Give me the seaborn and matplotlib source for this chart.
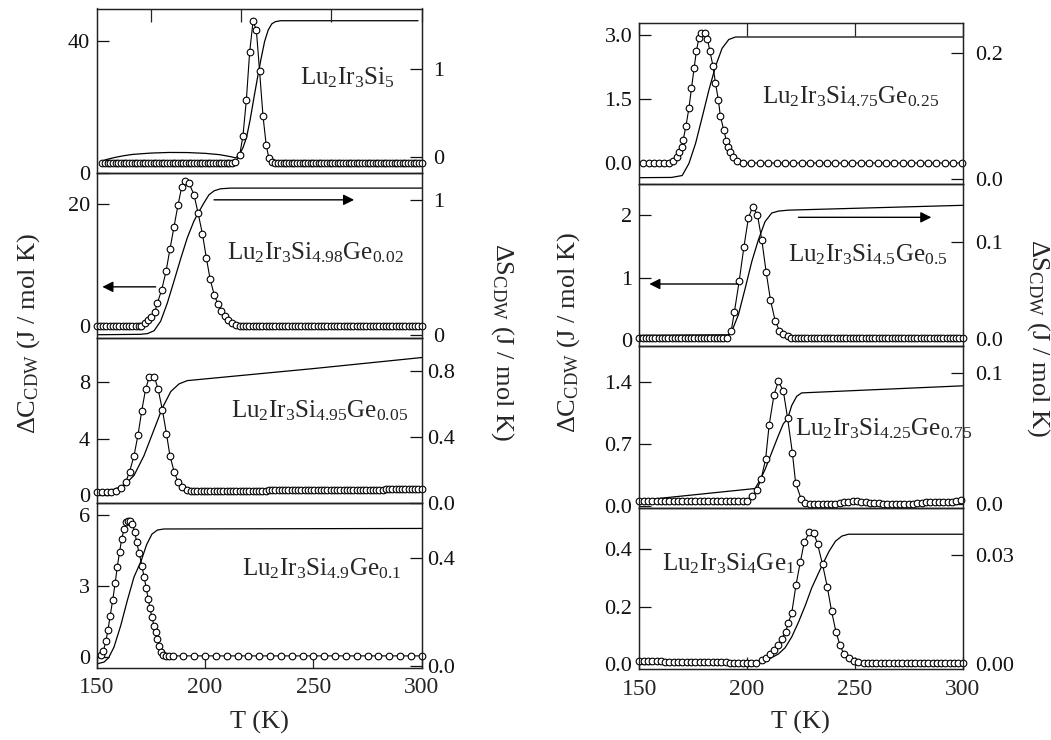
import matplotlib
matplotlib.use("Agg")
import matplotlib.pyplot as plt
import seaborn as sns

# ---------------- data ----------------
# Lu2Ir3Si5 (own T range 120-300)
T_si5 = [123.0, 124.5, 126.0, 127.5, 129.0, 130.5, 132.0, 133.5, 135.0, 136.5,
         138.0, 139.5, 141.0, 142.5, 144.0, 145.5, 147.0, 148.5, 150.0, 151.5,
         153.0, 154.5, 156.0, 157.5, 159.0, 160.5, 162.0, 163.5, 165.0, 166.5,
         168.0, 169.5, 171.0, 172.5, 174.0, 175.5, 177.0, 178.5, 180.0, 181.5,
         183.0, 184.5, 186.0, 187.5, 189.0, 190.5, 192.0, 193.5, 195.0,
         196.8, 199.2, 201.0, 202.9, 204.7, 206.6, 208.4, 210.2, 212.1, 213.9, 215.4, 217.1,
         219.0, 220.5, 222.0, 223.5, 225.0, 226.5, 228.0, 229.5, 231.0, 232.5,
         234.0, 235.5, 237.0, 238.5, 240.0, 241.5, 243.0, 244.5, 246.0, 247.5,
         249.0, 250.5, 252.0, 253.5, 255.0, 256.5, 258.0, 259.5, 261.0, 262.5,
         264.0, 265.5, 267.0, 268.5, 270.0, 271.5, 273.0, 274.5, 276.0, 277.5,
         279.0, 280.5, 282.0, 283.5, 285.0, 286.5, 288.0, 289.5, 291.0, 292.5,
         294.0, 295.5, 297.0, 298.5, 300.0]
C_si5 = [3.2, 3.2, 3.2, 3.2, 3.2, 3.2, 3.2, 3.2, 3.2, 3.2,
         3.2, 3.2, 3.2, 3.2, 3.2, 3.2, 3.2, 3.2, 3.2, 3.2,
         3.2, 3.2, 3.2, 3.2, 3.2, 3.2, 3.2, 3.2, 3.2, 3.2,
         3.2, 3.2, 3.2, 3.2, 3.2, 3.2, 3.2, 3.2, 3.2, 3.2,
         3.2, 3.2, 3.2, 3.2, 3.2, 3.2, 3.2, 3.2, 3.2,
         3.5, 5.5, 11.3, 22.2, 36.5, 45.8, 43.3, 30.9, 17.3, 8.4, 4.5, 3.3,
         3.2, 3.2, 3.2, 3.2, 3.2, 3.2, 3.2, 3.2, 3.2, 3.2,
         3.2, 3.2, 3.2, 3.2, 3.2, 3.2, 3.2, 3.2, 3.2, 3.2,
         3.2, 3.2, 3.2, 3.2, 3.2, 3.2, 3.2, 3.2, 3.2, 3.2,
         3.2, 3.2, 3.2, 3.2, 3.2, 3.2, 3.2, 3.2, 3.2, 3.2,
         3.2, 3.2, 3.2, 3.2, 3.2, 3.2, 3.2, 3.2, 3.2, 3.2,
         3.2, 3.2, 3.2, 3.2, 3.2]
TS_si5 = [123, 126, 130, 135, 140, 150, 160, 170, 180, 188, 194, 197, 199, 201, 203,
          205, 207, 209, 211, 213, 215, 217, 219, 222, 298]
S_si5 = [-0.05, -0.03, -0.01, 0.01, 0.025, 0.04, 0.047, 0.046, 0.037, 0.022, 0.0, -0.015,
         0.02, 0.1, 0.22, 0.42, 0.66, 0.89, 1.11, 1.31, 1.44, 1.51, 1.535, 1.545, 1.545]

# Lu2Ir3Si4.98Ge0.02
T_ge002 = [150.0, 151.5, 153.0, 154.5, 156.0, 157.5, 159.0, 160.5, 162.0, 163.5,
           165.0, 166.5, 168.0, 169.5,
           170.6, 172.2, 173.7, 175.2, 176.8, 178.0, 180.0, 182.0, 183.8, 185.7,
           187.5, 189.2, 190.8, 192.6, 194.9, 196.8, 198.8, 200.6, 202.3, 204.2,
           206.0, 207.5, 209.2, 210.8, 212.6, 214.5,
           216.0, 217.5, 219.0, 220.5, 222.0, 223.5, 225.0, 226.5, 228.0, 229.5,
           231.0, 232.5, 234.0, 235.5, 237.0, 238.5, 240.0, 241.5, 243.0, 244.5,
           246.0, 247.5, 249.0, 250.5, 252.0, 253.5, 255.0, 256.5, 258.0, 259.5,
           261.0, 262.5, 264.0, 265.5, 267.0, 268.5, 270.0, 271.5, 273.0, 274.5,
           276.0, 277.5, 279.0, 280.5, 282.0, 283.5, 285.0, 286.5, 288.0, 289.5,
           291.0, 292.5, 294.0, 295.5, 297.0, 298.5, 300.0]
C_ge002 = [0.1, 0.1, 0.1, 0.1, 0.1, 0.1, 0.1, 0.1, 0.1, 0.1,
           0.1, 0.1, 0.1, 0.1,
           0.15, 0.5, 1.1, 1.5, 2.4, 3.8, 6.0, 9.0, 12.6, 16.3,
           19.8, 22.7, 23.8, 23.4, 21.5, 18.5, 15.1, 11.2, 7.8, 5.2,
           3.6, 2.5, 1.75, 1.1, 0.55, 0.27,
           0.1, 0.1, 0.1, 0.1, 0.1, 0.1, 0.1, 0.1, 0.1, 0.1,
           0.1, 0.1, 0.1, 0.1, 0.1, 0.1, 0.1, 0.1, 0.1, 0.1,
           0.1, 0.1, 0.1, 0.1, 0.1, 0.1, 0.1, 0.1, 0.1, 0.1,
           0.1, 0.1, 0.1, 0.1, 0.1, 0.1, 0.1, 0.1, 0.1, 0.1,
           0.1, 0.1, 0.1, 0.1, 0.1, 0.1, 0.1, 0.1, 0.1, 0.1,
           0.1, 0.1, 0.1, 0.1, 0.1, 0.1, 0.1]
TS_ge002 = [150, 170, 173.4, 176.5, 179.5, 182.6, 185.7, 188.8, 191.8, 194.9, 197.2,
            199.5, 201.8, 204.2, 207.2, 211.8, 300]
S_ge002 = [0.0, 0.003, 0.008, 0.03, 0.1, 0.236, 0.40, 0.567, 0.72, 0.846, 0.915,
           0.98, 1.04, 1.07, 1.085, 1.09, 1.09]

# Lu2Ir3Si4.95Ge0.05
T_ge005 = [150.3, 152.6, 154.6, 156.8, 158.9,
           161.1, 163.5, 165.2, 167.2, 169.1, 170.8, 172.6, 174.3, 176.6, 178.3,
           180.3, 182.2, 183.8, 185.7, 187.5, 189.5, 191.5,
           193.5, 195.0, 196.5, 198.0, 199.5, 201.0, 202.5, 204.0, 205.5, 207.0,
           208.5, 210.0, 211.5, 213.0, 214.5, 216.0, 217.5, 219.0, 220.5, 222.0,
           223.5, 225.0, 226.5, 228.0, 229.5, 231.0, 232.5, 234.0, 235.5, 237.0,
           238.5, 240.0, 241.5, 243.0, 244.5, 246.0, 247.5, 249.0, 250.5, 252.0,
           253.5, 255.0, 256.5, 258.0, 259.5, 261.0, 262.5, 264.0, 265.5, 267.0,
           268.5, 270.0, 271.5, 273.0, 274.5, 276.0, 277.5, 279.0, 280.5, 282.0,
           283.5, 285.0, 286.5, 288.0, 289.5, 291.0, 292.5, 294.0, 295.5, 297.0,
           298.5, 300.0]
C_ge005 = [0.19, 0.19, 0.19, 0.19, 0.26,
           0.5, 0.96, 1.67, 2.78, 4.3, 6.0, 7.55, 8.4, 8.4, 7.55,
           6.07, 4.35, 2.8, 1.67, 0.94, 0.54, 0.35,
           0.30, 0.30, 0.30, 0.30, 0.30, 0.30, 0.30, 0.30, 0.30, 0.30,
           0.31, 0.31, 0.31, 0.31, 0.31, 0.31, 0.31, 0.31, 0.32, 0.32,
           0.32, 0.32, 0.32, 0.32, 0.33, 0.33, 0.33, 0.33, 0.33, 0.33,
           0.34, 0.34, 0.34, 0.34, 0.34, 0.35, 0.35, 0.35, 0.35, 0.35,
           0.36, 0.36, 0.36, 0.36, 0.36, 0.37, 0.37, 0.37, 0.37, 0.37,
           0.38, 0.38, 0.38, 0.38, 0.38, 0.39, 0.39, 0.39, 0.39, 0.39,
           0.40, 0.40, 0.40, 0.40, 0.40, 0.41, 0.41, 0.41, 0.41, 0.41,
           0.42, 0.42]
TS_ge005 = [150, 158, 162.6, 167.2, 171.8, 176.5, 180.3, 184.2, 188, 191.8, 250, 300]
S_ge005 = [0.07, 0.082, 0.106, 0.166, 0.286, 0.446, 0.576, 0.676, 0.722, 0.742, 0.815, 0.882]

# Lu2Ir3Si4.9Ge0.1
T_ge01 = [151.8, 153.1, 154.2, 155.2, 156.2, 157.4, 158.5, 159.5, 160.6, 161.5,
          162.6, 163.7, 164.5, 165.4, 166.5, 167.5, 168.5, 169.5, 170.9, 171.8,
          172.9, 173.8, 174.6, 175.4, 176.5, 177.2, 178.0, 178.8, 179.5, 180.8,
          182.0, 183.4, 185.0,
          190, 195, 200, 205, 210, 215, 220, 225, 230, 235, 240, 245, 250, 255,
          260, 265, 270, 275, 280, 285, 290, 295, 300]
C_ge01 = [0.07, 0.25, 0.64, 1.13, 1.72, 2.4, 3.1, 3.81, 4.45, 4.97,
          5.39, 5.68, 5.76, 5.76, 5.62, 5.28, 4.84, 4.40, 3.85, 3.39,
          2.89, 2.43, 2.05, 1.69, 1.30, 1.06, 0.73, 0.45, 0.21, 0.07,
          0.03, 0.03, 0.03,
          0.03, 0.03, 0.03, 0.03, 0.03, 0.03, 0.03, 0.03, 0.03, 0.03, 0.03, 0.03, 0.03, 0.03,
          0.03, 0.03, 0.03, 0.03, 0.03, 0.03, 0.03, 0.03, 0.03]
TS_ge01 = [150, 153.4, 155.5, 158.0, 161.1, 164.2, 167.2, 170.5, 173.0, 175.5, 178.0, 181.0, 300]
S_ge01 = [0.007, 0.014, 0.03, 0.07, 0.15, 0.245, 0.33, 0.39, 0.45, 0.49, 0.505, 0.509, 0.511]

# Lu2Ir3Si4.75Ge0.25
T_ge025 = [151.9, 154.5, 156.8, 159.3, 161.6, 163.9, 165.7, 167.3, 168.3, 169.6,
           170.3, 171.6, 173.0, 174.2, 175.4, 176.5, 177.6, 178.6, 180.4, 181.6,
           182.7, 184.2, 185.3, 186.7, 187.6, 189.2, 190.4, 191.2, 192.3, 193.5,
           195.1, 198.1,
           202.0, 205.9, 209.8, 213.7, 217.6, 221.5, 225.4, 229.3, 233.2, 237.1,
           241.0, 244.9, 248.8, 252.7, 256.6, 260.5, 264.4, 268.3, 272.2, 276.1,
           280.0, 283.9, 287.8, 291.7, 295.6, 299.5]
C_ge025 = [0.0, 0.0, 0.0, 0.0, 0.0, 0.0, 0.04, 0.14, 0.26, 0.38,
           0.53, 0.86, 1.28, 1.75, 2.22, 2.63, 2.92, 3.06, 3.06, 2.91,
           2.63, 2.27, 1.88, 1.47, 1.10, 0.77, 0.52, 0.38, 0.26, 0.14,
           0.04, 0.0,
           0.0, 0.0, 0.0, 0.0, 0.0, 0.0, 0.0, 0.0, 0.0, 0.0,
           0.0, 0.0, 0.0, 0.0, 0.0, 0.0, 0.0, 0.0, 0.0, 0.0,
           0.0, 0.0, 0.0, 0.0, 0.0, 0.0]
TS_ge025 = [150, 165, 169.9, 173.0, 176.1, 179.2, 182.3, 185.4, 188.4, 191.5, 194.6, 300]
S_ge025 = [0.0016, 0.002, 0.005, 0.024, 0.056, 0.098, 0.141, 0.179, 0.207, 0.221, 0.225, 0.225]

# Lu2Ir3Si4.5Ge0.5
T_ge05 = [150.0, 151.5, 153.0, 154.5, 156.0, 157.5, 159.0, 160.5, 162.0, 163.5,
          165.0, 166.5, 168.0, 169.5, 171.0, 172.5, 174.0, 175.5, 177.0, 178.5,
          180.0, 181.5, 183.0, 184.5, 186.0, 187.5, 189.0, 190.5,
          192.6, 194.1, 196.3, 198.5, 200.6, 202.6, 204.8, 206.8, 208.8, 210.8,
          213.0, 215.0, 216.8, 218.8,
          220.5, 222.0, 223.5, 225.0, 226.5, 228.0, 229.5, 231.0, 232.5, 234.0,
          235.5, 237.0, 238.5, 240.0, 241.5, 243.0, 244.5, 246.0, 247.5, 249.0,
          250.5, 252.0, 253.5, 255.0, 256.5, 258.0, 259.5, 261.0, 262.5, 264.0,
          265.5, 267.0, 268.5, 270.0, 271.5, 273.0, 274.5, 276.0, 277.5, 279.0,
          280.5, 282.0, 283.5, 285.0, 286.5, 288.0, 289.5, 291.0, 292.5, 294.0,
          295.5, 297.0, 298.5, 300.0]
C_ge05 = [0.03, 0.03, 0.03, 0.03, 0.03, 0.03, 0.03, 0.03, 0.03, 0.03,
          0.03, 0.03, 0.03, 0.03, 0.03, 0.03, 0.03, 0.03, 0.03, 0.03,
          0.03, 0.03, 0.03, 0.03, 0.03, 0.03, 0.03, 0.03,
          0.14, 0.45, 0.94, 1.49, 1.96, 2.14, 2.01, 1.61, 1.10, 0.65,
          0.31, 0.15, 0.09, 0.06,
          0.03, 0.03, 0.03, 0.03, 0.03, 0.03, 0.03, 0.03, 0.03, 0.03,
          0.03, 0.03, 0.03, 0.03, 0.03, 0.03, 0.03, 0.03, 0.03, 0.03,
          0.03, 0.03, 0.03, 0.03, 0.03, 0.03, 0.03, 0.03, 0.03, 0.03,
          0.03, 0.03, 0.03, 0.03, 0.03, 0.03, 0.03, 0.03, 0.03, 0.03,
          0.03, 0.03, 0.03, 0.03, 0.03, 0.03, 0.03, 0.03, 0.03, 0.03,
          0.03, 0.03, 0.03, 0.03]
TS_ge05 = [150, 191.4, 192.9, 196.0, 199.1, 202.2, 205.2, 208.3, 211.4, 214.5, 219.1, 300]
S_ge05 = [0.0034, 0.004, 0.0076, 0.025, 0.052, 0.080, 0.102, 0.121, 0.130, 0.132, 0.133, 0.138]

# Lu2Ir3Si4.25Ge0.75
T_ge075 = [150, 152, 154, 156, 158, 160, 162, 164, 166, 168, 170, 172, 174, 176,
           178, 180, 182, 184, 186, 188, 190, 192, 194, 196, 198, 200,
           202.5, 204.5, 206.5, 208.6, 210.2, 212.5, 214.5, 216.8, 218.8, 221.0,
           222.5, 225.0, 226.9,
           229, 231, 233, 235, 237, 239, 241, 243, 245, 247,
           249, 251, 253, 255, 257, 259, 261, 263, 265, 267,
           269, 271, 273, 275, 277, 279, 281, 283, 285, 287,
           289, 291, 293, 295, 297, 299]
C_ge075 = [0.05, 0.05, 0.05, 0.05, 0.05, 0.05, 0.05, 0.05, 0.05, 0.05, 0.05, 0.05, 0.05,
           0.05, 0.05, 0.05, 0.05, 0.05, 0.05, 0.05, 0.05, 0.05, 0.05, 0.05, 0.05, 0.05,
           0.11, 0.18, 0.30, 0.53, 0.91, 1.26, 1.41, 1.30, 0.99, 0.60,
           0.26, 0.08, 0.026,
           0.015, 0.015, 0.015, 0.015, 0.015, 0.017, 0.02, 0.03, 0.038, 0.045,
           0.048, 0.048, 0.045, 0.04, 0.035, 0.03, 0.026, 0.022, 0.02, 0.02,
           0.02, 0.02, 0.02, 0.022, 0.025, 0.03, 0.035, 0.04, 0.042, 0.042,
           0.04, 0.04, 0.042, 0.045, 0.05, 0.064]
TS_ge075 = [150, 203.7, 206, 208.3, 211.4, 214.5, 216.8, 218.8, 220.7, 223, 225.3, 300]
S_ge075 = [0.0025, 0.0116, 0.018, 0.026, 0.039, 0.052, 0.061, 0.065, 0.075, 0.082, 0.0846, 0.090]

# Lu2Ir3Si4Ge1
T_ge1 = [150, 152, 154, 156, 158, 160, 162, 164, 166, 168, 170, 172, 174, 176,
         178, 180, 182, 184, 186, 188, 190, 192, 194, 196, 198, 200, 202, 204,
         206.8, 208.6, 210.6, 212.7, 214.5, 216.0, 217.9, 219.1, 220.7, 222.7,
         224.7, 226.5, 228.9, 231.0, 232.7, 235.0, 237.2, 239.2, 241.2, 243.1,
         244.9, 247.2, 249.7, 251.5,
         254, 256, 258, 260, 262, 264, 266, 268, 270, 272, 274, 276,
         278, 280, 282, 284, 286, 288, 290, 292, 294, 296, 298, 300]
C_ge1 = [0.011, 0.011, 0.010, 0.010, 0.010, 0.010, 0.009, 0.009, 0.009, 0.009,
         0.008, 0.008, 0.008, 0.008, 0.008, 0.007, 0.007, 0.007, 0.007, 0.007,
         0.007, 0.006, 0.006, 0.006, 0.006, 0.006, 0.006, 0.006,
         0.015, 0.023, 0.035, 0.050, 0.066, 0.087, 0.113, 0.143, 0.178, 0.276,
         0.355, 0.423, 0.458, 0.455, 0.416, 0.346, 0.268, 0.183, 0.113, 0.066,
         0.035, 0.020, 0.012, 0.008,
         0.006, 0.006, 0.006, 0.006, 0.006, 0.006, 0.006, 0.006, 0.006, 0.006, 0.006, 0.006,
         0.006, 0.006, 0.006, 0.006, 0.006, 0.006, 0.006, 0.006, 0.006, 0.006, 0.006, 0.006]
TS_ge1 = [150, 205.2, 208.3, 211.4, 214.5, 217.6, 220.7, 223.8, 226.9, 230.0, 233.1,
          235.0, 238, 241, 244, 247, 300]
S_ge1 = [0.0005, 0.0005, 0.0009, 0.0018, 0.0028, 0.0045, 0.0075, 0.0115, 0.016, 0.021,
         0.025, 0.0274, 0.031, 0.0338, 0.0352, 0.0357, 0.0357]

labels = [r"Lu$_2$Ir$_3$Si$_5$",
          r"Lu$_2$Ir$_3$Si$_{4.98}$Ge$_{0.02}$",
          r"Lu$_2$Ir$_3$Si$_{4.95}$Ge$_{0.05}$",
          r"Lu$_2$Ir$_3$Si$_{4.9}$Ge$_{0.1}$",
          r"Lu$_2$Ir$_3$Si$_{4.75}$Ge$_{0.25}$",
          r"Lu$_2$Ir$_3$Si$_{4.5}$Ge$_{0.5}$",
          r"Lu$_2$Ir$_3$Si$_{4.25}$Ge$_{0.75}$",
          r"Lu$_2$Ir$_3$Si$_4$Ge$_1$"]

# ---------------- style ----------------
sns.set_theme(style="white")
plt.rcParams["font.family"] = ["Liberation Serif", "DejaVu Serif"]
plt.rcParams["mathtext.fontset"] = "custom"
plt.rcParams["mathtext.rm"] = "Liberation Serif"
plt.rcParams["mathtext.it"] = "Liberation Serif:italic"
plt.rcParams["mathtext.bf"] = "Liberation Serif:bold"
plt.rcParams["mathtext.default"] = "rm"

fig = plt.figure(figsize=(10.51, 7.40), dpi=100)

TICK_FS = 16
LAB_FS = 18


def make_panel(rect, T, C, TS, S, xlim, cyl, syl, cticks, clabs, sticks, slabs,
               label, lpos, xmode, box=False, spad=4):
    ax = fig.add_axes(rect)
    ax2 = ax.twinx()
    sns.lineplot(x=TS, y=S, ax=ax2, color="black", lw=0.9, estimator=None, sort=False)
    sns.lineplot(x=T, y=C, ax=ax, color="black", lw=0.8, marker="o", markersize=4.8,
                 markerfacecolor="white", markeredgecolor="black", markeredgewidth=0.8,
                 estimator=None, sort=False, clip_on=False)
    ax.set_zorder(ax2.get_zorder() + 1)
    ax.patch.set_visible(False)
    ax.set_xlim(*xlim)
    ax.set_ylim(*cyl)
    ax2.set_ylim(*syl)
    ax.set_yticks(cticks)
    ax.set_yticklabels(clabs)
    ax2.set_yticks(sticks)
    ax2.set_yticklabels(slabs)
    for a in (ax, ax2):
        a.set_xlabel("")
        a.set_ylabel("")
        for sp in a.spines.values():
            sp.set_color("#222222")
            sp.set_linewidth(0.9)
    ax.tick_params(axis="y", direction="in", length=8.5, width=0.9, labelsize=TICK_FS,
                   pad=5, left=True, right=False, colors="#111111")
    ax2.tick_params(axis="y", direction="in", length=8.5, width=0.9, labelsize=TICK_FS,
                    pad=spad, left=False, right=True, colors="#111111")
    if xmode == "top":
        ax.set_xticks([150, 200, 250, 300])
        ax.tick_params(axis="x", direction="in", length=9, width=0.9, top=True,
                       bottom=False, labeltop=False, labelbottom=False)
    elif xmode == "bottom":
        ax.set_xticks([150, 200, 250, 300])
        ax.set_xticklabels(["150", "200", "250", "300"])
        ax.tick_params(axis="x", direction="in", length=9, width=0.9, top=False,
                       bottom=True, labelbottom=True, labelsize=TICK_FS + 1, pad=7)
    else:
        ax.tick_params(axis="x", top=False, bottom=False, labelbottom=False, labeltop=False)
    kw = dict(transform=ax.transAxes, fontsize=LAB_FS, ha="left", va="baseline", zorder=5)
    if box:
        kw["bbox"] = dict(facecolor="white", edgecolor="none", pad=1.5)
    ax.text(lpos[0], lpos[1], label, **kw)
    return ax, ax2


def arrow(ax, start, end):
    ax.annotate("", xy=end, xytext=start, xycoords="axes fraction",
                textcoords="axes fraction",
                arrowprops=dict(arrowstyle="-|>", color="black", lw=1.0,
                                mutation_scale=16, shrinkA=0, shrinkB=0))


# geometry (figure fractions)
LX, LW = 96.7 / 1051, 325.0 / 1051
RX, RW = 639.3 / 1051, 323.4 / 1051
LH_PX, LTOP = 164.8, 8.5
RH_PX, RTOP = 161.65, 22.7


def lrect(i):
    return [LX, 1 - (LTOP + LH_PX * (i + 1)) / 740, LW, LH_PX / 740]


def rrect(i):
    return [RX, 1 - (RTOP + RH_PX * (i + 1)) / 740, RW, RH_PX / 740]


# left column
make_panel(lrect(0), T_si5, C_si5, TS_si5, S_si5, (120, 300), (0, 49.7), (-0.19, 1.684),
           [0, 40], ["0", "40"], [0, 1], ["0", "1"], labels[0], (0.626, 0.538), "top",
           spad=8)
axL2, _ = make_panel(lrect(1), T_ge002, C_ge002, TS_ge002, S_ge002, (150, 300), (-1.9, 25.0),
                     (-0.025, 1.2), [0, 20], ["0", "20"], [0, 1], ["0", "1"], labels[1],
                     (0.402, 0.478), "none", spad=8)
arrow(axL2, (0.361, 0.839), (0.792, 0.839))
arrow(axL2, (0.1815, 0.311), (0.0174, 0.311))
make_panel(lrect(2), T_ge005, C_ge005, TS_ge005, S_ge005, (150, 300), (-0.56, 11.15),
           (0.0, 1.0), [0, 4, 8], ["0", "4", "8"], [0.0, 0.4, 0.8], ["0.0", "0.4", "0.8"],
           labels[2], (0.414, 0.516), "none", box=True)
make_panel(lrect(3), T_ge01, C_ge01, TS_ge01, S_ge01, (150, 300), (-0.47, 6.51),
           (-0.007, 0.606), [0, 3, 6], ["0", "3", "6"], [0.0, 0.4], ["0.0", "0.4"],
           labels[3], (0.448, 0.563), "bottom", box=True)

# right column
make_panel(rrect(0), T_ge025, C_ge025, TS_ge025, S_ge025, (150, 300), (-0.5, 3.29),
           (-0.009, 0.2477), [0.0, 1.5, 3.0], ["0.0", "1.5", "3.0"], [0.0, 0.2],
           ["0.0", "0.2"], labels[4], (0.379, 0.50), "top", spad=9)
axR2, _ = make_panel(rrect(1), T_ge05, C_ge05, TS_ge05, S_ge05, (150, 300), (-0.096, 2.50),
                     (-0.0076, 0.1597), [0, 1, 2], ["0", "1", "2"], [0.0, 0.1],
                     ["0.0", "0.1"], labels[5], (0.461, 0.524), "none", box=True, spad=9)
arrow(axR2, (0.492, 0.796), (0.903, 0.796))
arrow(axR2, (0.3045, 0.3835), (0.031, 0.3835))
make_panel(rrect(2), T_ge075, C_ge075, TS_ge075, S_ge075, (150, 300), (-0.022, 1.81),
           (-0.003, 0.1204), [0.0, 0.7, 1.4], ["0.0", "0.7", "1.4"], [0.0, 0.1],
           ["0.0", "0.1"], labels[6], (0.481, 0.445), "none", spad=9)
make_panel(rrect(3), T_ge1, C_ge1, TS_ge1, S_ge1, (150, 300), (-0.0175, 0.543),
           (-0.0014, 0.043), [0.0, 0.2, 0.4], ["0.0", "0.2", "0.4"], [0.00, 0.03],
           ["0.00", "0.03"], labels[7], (0.07, 0.613), "bottom", spad=9)

# axis labels
clab = "\u0394C$_{\\mathrm{CDW}}$ (J / mol K)"
slab = "\u0394S$_{\\mathrm{CDW}}$ (J / mol K)"
fig.text(0.027, 0.549, clab, rotation=90, ha="center", va="center", fontsize=LAB_FS + 1)
fig.text(0.478, 0.538, slab, rotation=270, ha="center", va="center", fontsize=LAB_FS + 1)
fig.text(0.541, 0.551, clab, rotation=90, ha="center", va="center", fontsize=LAB_FS + 1)
fig.text(0.988, 0.543, slab, rotation=270, ha="center", va="center", fontsize=LAB_FS + 1)
fig.text(0.2466, 0.0243, "T (K)", ha="center", va="center", fontsize=LAB_FS + 1)
fig.text(0.762, 0.0243, "T (K)", ha="center", va="center", fontsize=LAB_FS + 1)

fig.savefig("out.png", dpi=100, facecolor="white")
